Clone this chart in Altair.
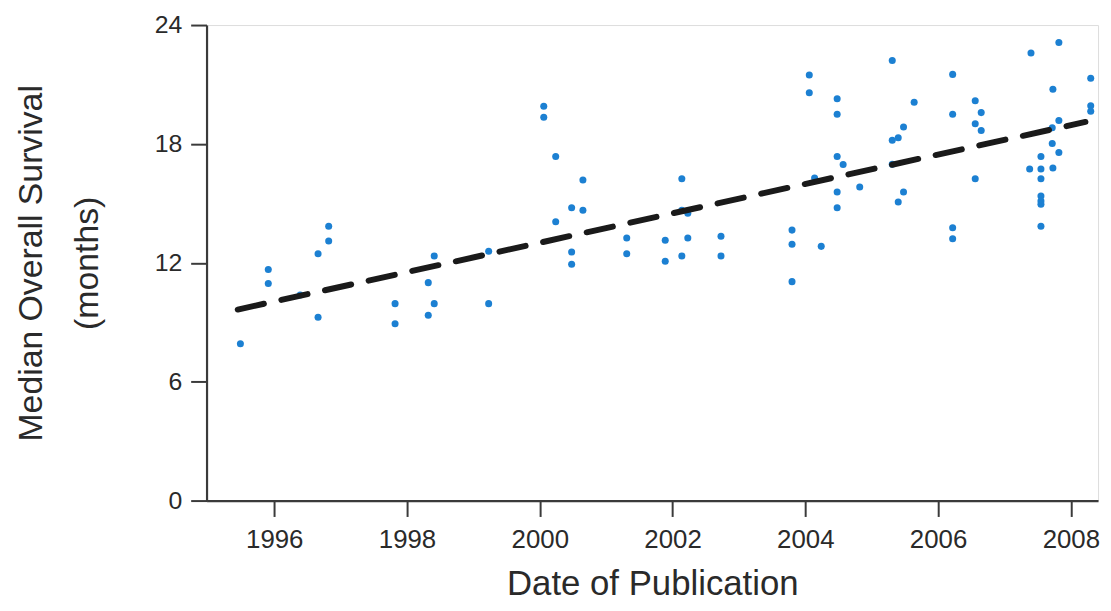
import altair as alt
import pandas as pd

# Publication date (decimal year) and median overall survival (months)
years = [
    1995.49, 1995.91, 1995.91, 1996.39, 1996.66, 1996.66, 1996.82, 1996.82,
    1997.82, 1997.82, 1998.32, 1998.32, 1998.41, 1998.41, 1999.23, 1999.23,
    2000.06, 2000.06, 2000.24, 2000.24, 2000.48, 2000.48, 2000.48, 2000.65, 2000.65,
    2001.31, 2001.31, 2001.89, 2001.89, 2002.14, 2002.14, 2002.23, 2002.23, 2002.14,
    2002.73, 2002.73, 2003.80, 2003.80, 2003.80,
    2004.06, 2004.06, 2004.14, 2004.24, 2004.48, 2004.48, 2004.48, 2004.57, 2004.48,
    2004.48, 2004.82,
    2005.31, 2005.31, 2005.40, 2005.31, 2005.48, 2005.48, 2005.40, 2005.64,
    2006.22, 2006.22, 2006.22, 2006.22, 2006.56, 2006.65, 2006.56, 2006.65, 2006.56,
    2007.40, 2007.82, 2007.73, 2007.82, 2007.72, 2007.72, 2007.82, 2007.55, 2007.38,
    2007.55, 2007.73, 2007.55, 2007.55, 2007.55, 2007.55, 2007.55,
    2008.30, 2008.30, 2008.30,
]
survival = [
    7.92, 11.66, 10.96, 10.38, 12.46, 9.25, 13.84, 13.10,
    9.94, 8.92, 11.00, 9.35, 12.34, 9.94, 12.58, 9.94,
    19.90, 19.35, 17.36, 14.07, 14.78, 12.54, 11.93, 16.18, 14.65,
    13.25, 12.46, 13.14, 12.08, 16.24, 14.65, 14.50, 13.25, 12.34,
    13.34, 12.34, 13.65, 12.94, 11.05,
    21.48, 20.58, 16.28, 12.83, 20.28, 19.50, 17.36, 16.96, 15.57,
    14.78, 15.83,
    22.21, 18.19, 18.31, 16.98, 18.85, 15.57, 15.07, 20.10,
    21.51, 19.50, 13.77, 13.22, 20.18, 19.58, 19.02, 18.68, 16.24,
    22.59, 23.12, 20.76, 19.18, 18.82, 18.02, 17.57, 17.36, 16.73,
    16.73, 16.78, 16.24, 15.37, 15.12, 14.95, 13.84,
    21.31, 19.93, 19.65,
]

# Fitted trend line end points
trend_years = [1995.45, 2008.22]
trend_values = [9.64, 19.11]

x_ticks = [1996, 1998, 2000, 2002, 2004, 2006, 2008]
y_ticks = [0, 6, 12, 18, 24]

pts = pd.DataFrame({"year": years, "os": survival})
trend = pd.DataFrame({"year": trend_years, "os": trend_values})

FONT = "Liberation Sans"

x_scale = alt.Scale(domain=[1994.98, 2008.41], nice=False, zero=False)
y_scale = alt.Scale(domain=[0, 24], nice=False)

x_axis = alt.Axis(
    title="Date of Publication",
    values=x_ticks, format="d",
    grid=False, domainColor="#3a3a3a", domainWidth=2.2,
    tickColor="#3a3a3a", tickWidth=2, tickSize=16,
    labelFont=FONT, labelFontSize=26, labelColor="#2a2a2a", labelPadding=10,
    titleFont=FONT, titleFontSize=35, titleFontWeight="normal", titleColor="#2a2a2a",
    titlePadding=15,
)
y_axis = alt.Axis(
    title=["Median Overall Survival", "(months)"],
    values=y_ticks, format="d",
    grid=False, domainColor="#3a3a3a", domainWidth=2.2,
    tickColor="#3a3a3a", tickWidth=2, tickSize=16,
    labelFont=FONT, labelFontSize=25, labelColor="#2a2a2a", labelPadding=9,
    titleFont=FONT, titleFontSize=34, titleFontWeight="normal", titleColor="#2a2a2a",
    titlePadding=50, titleLineHeight=56,
)

points = alt.Chart(pts).mark_circle(size=50, color="#1c80d2", opacity=1).encode(
    x=alt.X("year:Q", scale=x_scale, axis=x_axis),
    y=alt.Y("os:Q", scale=y_scale, axis=y_axis),
)

line = alt.Chart(trend).mark_line(
    color="#1a1a1a", strokeWidth=6, strokeDash=[27, 18], strokeCap="round"
).encode(
    x=alt.X("year:Q", scale=x_scale),
    y=alt.Y("os:Q", scale=y_scale),
)

chart = alt.layer(points, line).properties(
    width=898, height=479,
    autosize=alt.AutoSizeParams(type="none"),
    padding={"left": 200, "top": 15, "right": 5, "bottom": 101},
).configure_view(strokeWidth=0, stroke="transparent").configure(background="white")

chart.save("out.html", embed_options={"renderer": "svg", "actions": False})
